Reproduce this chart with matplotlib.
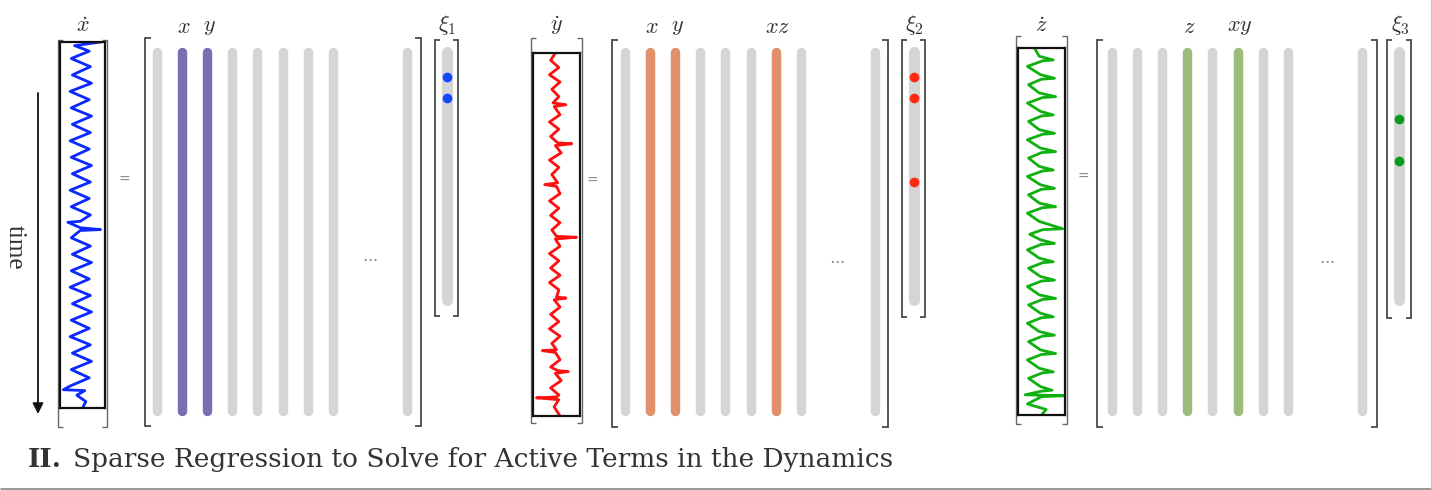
import numpy as np
import matplotlib
matplotlib.use('Agg')
import matplotlib.pyplot as plt

plt.rcParams['mathtext.fontset'] = 'cm'

# ------------------------------------------------------------------ data
library_terms = ['1', 'x', 'y', 'z', 'x^2', 'xy', 'xz', 'y^2']   # columns shown before the ellipsis
state_labels = [r'\dot{x}', r'\dot{y}', r'\dot{z}']
xi_labels = [r'\xi_1', r'\xi_2', r'\xi_3']
xi1_active = [1, 2]          # x, y
xi2_active = [1, 2, 6]       # x, y, xz
xi3_active = [3, 5]          # z, xy

# time series (time, value), time 0..40 top->bottom, value -1..1 left->right
xdot_samples = [(0, 0.8), (0.4, -0.35), (1.0, 0.3), (1.8, -0.5), (2.7, 0.35), (3.6, -0.45),
                (4.5, 0.4), (5.4, -0.55), (6.3, 0.3), (7.2, -0.5), (8.1, 0.4), (9.0, -0.45),
                (9.9, 0.35), (10.8, -0.55), (11.7, 0.3), (12.6, -0.5), (13.5, 0.4), (14.4, -0.45),
                (15.3, 0.35), (16.2, -0.55), (17.1, 0.3), (18.0, -0.5), (18.9, 0.35), (19.6, -0.1),
                (19.7, -0.65), (20.3, -0.1), (20.5, 0.8), (20.6, -0.1), (21.4, -0.5), (22.3, 0.35),
                (23.2, -0.45), (24.1, 0.4), (25.0, -0.5), (25.9, 0.3), (26.8, -0.55), (27.7, 0.35),
                (28.6, -0.45), (29.5, 0.4), (30.4, -0.5), (31.3, 0.3), (32.2, -0.55), (33.1, 0.35),
                (34.0, -0.45), (34.9, 0.4), (35.8, -0.5), (36.7, 0.3), (37.6, -0.55), (38.0, -0.85),
                (38.1, 0.1), (38.6, -0.25), (39.3, 0.15), (40.0, 0.0)]

ydot_samples = [(0, -0.05), (0.8, -0.25), (1.6, 0.1), (2.4, -0.3), (3.2, 0.15), (4.0, -0.2),
                (4.8, 0.1), (5.5, -0.15), (5.7, 0.4), (5.9, -0.1), (6.8, 0.15), (7.6, -0.3),
                (8.4, 0.1), (9.2, -0.25), (9.9, 0.05), (10.0, 0.65), (10.2, -0.05), (11.0, 0.2),
                (11.8, -0.3), (12.6, 0.1), (13.4, -0.2), (14.3, 0.05), (14.5, -0.5), (14.7, 0.0),
                (15.5, 0.15), (16.3, -0.3), (17.1, 0.1), (17.9, -0.25), (18.7, 0.15), (19.5, -0.2),
                (20.2, 0.0), (20.3, 0.85), (20.5, -0.05), (21.3, 0.15), (22.1, -0.3), (22.9, 0.1),
                (23.7, -0.25), (24.5, 0.15), (25.3, -0.3), (26.1, 0.1), (26.9, 0.0), (27.0, 0.4),
                (27.2, -0.1), (28.0, 0.15), (28.8, -0.25), (29.6, 0.1), (30.4, -0.3), (31.2, 0.15),
                (32.0, -0.2), (32.7, 0.0), (32.8, -0.6), (33.0, -0.05), (33.8, 0.15), (34.6, -0.25),
                (35.0, 0.05), (35.1, 0.5), (35.3, -0.05), (36.1, 0.2), (36.9, -0.25), (37.7, 0.1),
                (37.9, 0.0), (38.0, -0.85), (38.2, 0.1), (39.0, -0.1), (40.0, 0.15)]

zdot_samples = [(0, -0.3), (0.9, -0.1), (1.3, 0.5), (1.4, 0.05), (2.0, -0.6), (2.9, -0.05),
                (3.3, 0.55), (3.4, 0.0), (4.0, -0.55), (4.9, -0.1), (5.3, 0.6), (5.4, 0.05),
                (6.0, -0.6), (6.9, -0.05), (7.3, 0.5), (7.4, 0.0), (8.0, -0.55), (8.9, -0.1),
                (9.3, 0.55), (9.4, 0.05), (10.0, -0.6), (10.9, -0.05), (11.3, 0.6), (11.4, 0.0),
                (12.0, -0.55), (12.9, -0.1), (13.3, 0.5), (13.4, 0.05), (14.0, -0.6), (14.9, -0.05),
                (15.3, 0.55), (15.4, 0.0), (16.0, -0.55), (16.9, -0.1), (17.3, 0.6), (17.4, 0.05),
                (18.0, -0.6), (18.9, -0.1), (19.7, 0.9), (19.8, 0.05), (20.3, -0.5), (20.9, -0.05),
                (21.3, 0.55), (21.4, 0.0), (22.0, -0.6), (22.9, -0.1), (23.3, 0.5), (23.4, 0.05),
                (24.0, -0.55), (24.9, -0.05), (25.3, 0.55), (25.4, 0.0), (26.0, -0.6), (26.9, -0.1),
                (27.3, 0.6), (27.4, 0.05), (28.0, -0.55), (28.9, -0.05), (29.3, 0.5), (29.4, 0.0),
                (30.0, -0.6), (30.9, -0.1), (31.3, 0.55), (31.4, 0.05), (32.0, -0.55), (32.9, -0.05),
                (33.3, 0.6), (33.4, 0.0), (34.0, -0.6), (34.9, -0.1), (35.3, 0.5), (35.4, 0.05),
                (36.0, -0.55), (36.9, -0.05), (37.3, 0.45), (37.4, 0.0), (37.8, -0.7), (37.9, 0.95),
                (38.0, 0.0), (38.8, -0.6), (39.4, 0.2), (40.0, 0.0)]

title_bold = 'II.'
title_text = 'Sparse Regression to Solve for Active Terms in the Dynamics'

# ------------------------------------------------------------------ layout (pixels)
W, H = 1432, 490
panels = [
    dict(samples=xdot_samples, active=xi1_active,
         box=(60, 105, 42, 408), brk=(58, 107, 40, 427),
         col0=157, col_last=407, mat=(145, 421), mat_y=(38, 426),
         xi=(435, 458, 40, 316), eq=(124, 180), dots=(370, 257),
         trace='#0a28ff', col='#7a6db2', dot='#1446ff'),
    dict(samples=ydot_samples, active=xi2_active,
         box=(533, 580, 53, 416), brk=(531, 582, 38, 423),
         col0=625, col_last=875, mat=(612, 888), mat_y=(40, 427),
         xi=(902, 925, 40, 317), eq=(592, 181), dots=(837, 259),
         trace='#ff1010', col='#e0906a', dot='#ff2a10'),
    dict(samples=zdot_samples, active=xi3_active,
         box=(1018, 1065, 48, 415), brk=(1016, 1067, 36, 424),
         col0=1112, col_last=1362, mat=(1097, 1377), mat_y=(40, 427),
         xi=(1387, 1411, 40, 318), eq=(1083, 177), dots=(1327, 259),
         trace='#10b010', col='#9cbb7c', dot='#0a9a1e'),
]
col_dx = 25.1
col_y = (52, 411)
xi_col_y = (52, 300)
xi_row0, xi_dy = 56, 21
gray = '#d5d5d5'
bracket_c = '#4a4a4a'
label_c = '#333333'

fig = plt.figure(figsize=(W / 100, H / 100), dpi=100)
ax = fig.add_axes([0, 0, 1, 1])
ax.set_xlim(0, W)
ax.set_ylim(H, 0)
ax.axis('off')


def bracket(x, y0, y1, side, tick=6, lw=1.3, color=bracket_c):
    ax.plot([x + side * tick, x, x, x + side * tick], [y0, y0, y1, y1],
            color=color, lw=lw, solid_joinstyle='miter', solid_capstyle='butt')


for k, p in enumerate(panels):
    # time-series vector
    bl, br, bt, bb = p['box']
    sub = fig.add_axes([bl / W, 1 - bb / H, (br - bl) / W, (bb - bt) / H])
    t, v = zip(*p['samples'])
    sub.plot(v, t, color=p['trace'], lw=2.0)
    sub.set_xlim(-1, 1)
    sub.set_ylim(40, 0)
    sub.set_xticks([]); sub.set_yticks([])
    for s in sub.spines.values():
        s.set_linewidth(1.6); s.set_color('#111111')
    sub.patch.set_alpha(0)
    x0, x1, y0, y1 = p['brk']
    bracket(x0, y0, y1, +1, tick=5, lw=1.0, color='#666666')
    bracket(x1, y0, y1, -1, tick=5, lw=1.0, color='#666666')
    ax.text((bl + br) / 2, 26, '$' + state_labels[k] + '$', ha='center', va='center',
            fontsize=16, color=label_c)

    # equals sign
    ax.text(p['eq'][0], p['eq'][1], '=', ha='center', va='center', fontsize=10, color='#888888')

    # library matrix columns
    xs = [p['col0'] + i * col_dx for i in range(len(library_terms))] + [p['col_last']]
    for i, xc in enumerate(xs):
        c = p['col'] if i in p['active'] else gray
        ax.plot([xc, xc], col_y, color=c, lw=6.8, solid_capstyle='round')
        if i in p['active']:
            ax.text(xc + 2, 27, '$' + library_terms[i] + '$', ha='center', va='center',
                    fontsize=16, color=label_c)
    ml, mr = p['mat']
    bracket(ml, p['mat_y'][0], p['mat_y'][1], +1)
    bracket(mr, p['mat_y'][0], p['mat_y'][1], -1)
    ax.text(p['dots'][0], p['dots'][1], r'$\cdots$', ha='center', va='center',
            fontsize=12, color='#888888')

    # coefficient vector
    xl, xr, xt, xb = p['xi']
    xc = (xl + xr) / 2
    ax.plot([xc, xc], xi_col_y, color=gray, lw=8, solid_capstyle='round')
    bracket(xl, xt, xb, +1, tick=5)
    bracket(xr, xt, xb, -1, tick=5)
    ys = [xi_row0 + xi_dy * i for i in p['active']]
    ax.plot([xc] * len(ys), ys, 'o', color=p['dot'], ms=7, mec='none')
    ax.text(xc + 1, 25, '$' + xi_labels[k] + '$', ha='center', va='center',
            fontsize=16, color=label_c)

# time arrow
ax.annotate('', xy=(38, 414), xytext=(38, 93),
            arrowprops=dict(arrowstyle='-|>', color='#111111', lw=1.3, mutation_scale=16,
                            shrinkA=0, shrinkB=0))
ax.text(15, 247, 'time', rotation=-90, ha='center', va='center', fontsize=18,
        family='Liberation Serif', color=label_c)

# caption, fitted to the reference span
renderer = fig.canvas.get_renderer()
t2 = ax.text(73, 467, title_text, fontsize=19, family='DejaVu Serif',
             color=label_c, va='baseline', ha='left')
w2 = t2.get_window_extent(renderer).width
fs = 19 * (893 - 73) / w2
t2.set_fontsize(fs)
ax.text(28, 467, title_bold, fontweight='bold', fontsize=fs, family='DejaVu Serif',
        color=label_c, va='baseline', ha='left')

# frame lines at the bottom / right edge
ax.plot([0, W], [488.5, 488.5], color='#9a9a9a', lw=2.2, solid_capstyle='butt')
ax.plot([1431, 1431], [0, 488], color='#c8c8c8', lw=1.0)

fig.savefig('out.png', dpi=100)
